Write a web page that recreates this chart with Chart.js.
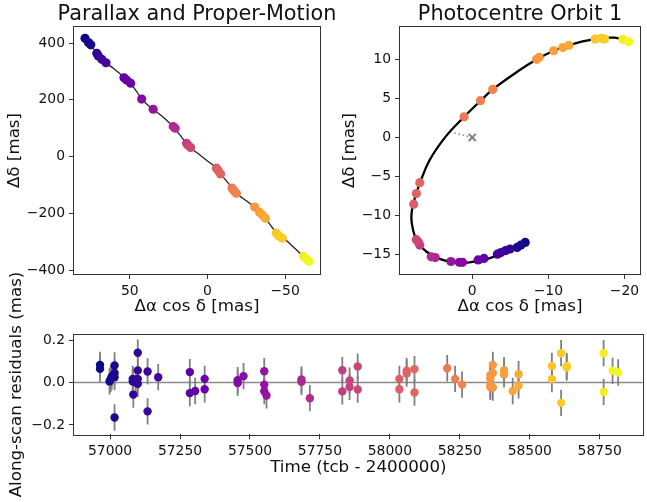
<!DOCTYPE html>
<html>
<head>
<meta charset="utf-8">
<script src="https://cdn.jsdelivr.net/npm/chart.js@4.4.0/dist/chart.umd.min.js"></script>
<style>
  body { margin: 0; background: #fff; width: 647px; height: 502px; position: relative; overflow: hidden; }
  canvas { position: absolute; }
</style>
</head>
<body>
<canvas id="pm" width="350" height="320" style="left:0;top:0"></canvas>
<canvas id="orb" width="317" height="320" style="left:330px;top:0"></canvas>
<canvas id="res" width="647" height="252" style="left:0;top:250px"></canvas>
<script>
// --- parallax + proper motion panel (mas) ---
var pmCurveRa  = [79.9, 76.7, 71.3, 65.4, 60.7, 53.8, 48.8, 45.6, 42.4, 39.2, 35.0, 28.5, 22.1, 17.8, 13.5, 9.2, 4.9, 0, -4.7, -9.0, -14.3, -18.6, -25.1, -30.4, -34.7, -38.9, -44.3, -49.7, -55.0, -61.9, -65.7];
var pmCurveDec = [420.7, 401.7, 366.5, 331.2, 311.5, 279.8, 252.6, 229, 203.3, 185.7, 167, 138.8, 105.7, 76.5, 47.2, 23.6, 6, -15.2, -35.2, -64.5, -99.7, -129, -156, -178.3, -199.4, -229, -267.8, -291, -317, -352.4, -375.6];
var pmRa   = [78.9, 76.7, 75.2, 71.3, 70.3, 68.1, 65.4, 53.8, 52.1, 49.5, 42.4, 35.0, 22.1, 20.8, 13.5, 12.5, 10.9, -5.8, -7.0, -8.4, -15.8, -17.0, -18.6, -30.4, -33.6, -35.5, -37.3, -44.3, -46.0, -48.2, -61.9, -64.0, -65.3];
var pmDec  = [417, 402, 394, 364, 355, 343, 331, 278, 270, 259, 203, 167, 106, 100, 47, 40, 32, -41, -50, -61, -111, -120, -129, -178, -197, -207, -217, -270, -280, -288, -352, -362, -370];
var pmTime = [56964, 57006, 57016, 57083, 57099, 57134, 57172, 57285, 57304, 57338, 57466, 57553, 57684, 57714, 57830, 57856, 57885, 58034, 58060, 58088, 58205, 58233, 58258, 58362, 58408, 58439, 58460, 58590, 58612, 58632, 58764, 58796, 58816];
var pmXTicks = [50, 0, -50];
var pmYTicks = [-400, -200, 0, 200, 400];

// --- photocentre orbit panel (mas) ---
var orbCurveRa  = [-7.0, -6, -5, -4, -3, -2, -1, 0, 1, 2, 3, 4, 5, 6, 7, 7.6, 7.95, 8.0, 7.85, 7.5, 6.9, 5.6, 3.5, 1.1, -1.1, -2.7, -5.9, -8.5, -10.7, -12.7, -14.5, -16.2, -18.7, -20.6];
var orbCurveDec = [-13.5, -14.05, -14.5, -14.9, -15.25, -15.55, -15.8, -15.95, -16.05, -16.05, -15.9, -15.65, -15.25, -14.65, -13.7, -12.5, -11, -10, -8.9, -7.6, -5.9, -2.9, 0.1, 2.6, 4.7, 6.15, 8.4, 10.0, 11.1, 11.8, 12.3, 12.6, 12.77, 12.25];
var orbRa   = [-6.96, -6.4, -5.9, -4.96, -4.4, -3.76, -3.3, -1.54, -0.77, 1.28, 1.7, 2.8, 4.87, 5.4, 6.9, 7.1, 7.35, 7.7, 7.35, 6.9, 1.07, -1.07, -2.7, -8.46, -8.8, -10.7, -11.9, -12.7, -16.15, -17.0, -17.4, -19.8, -20.55];
var orbDec  = [-13.46, -13.8, -14.1, -14.3, -14.5, -14.75, -14.96, -15.5, -15.7, -16.0, -16.0, -15.9, -15.4, -15.3, -13.8, -13.4, -13.1, -8.55, -7.2, -5.8, 2.64, 4.7, 6.15, 10.0, 10.26, 11.1, 11.5, 11.8, 12.6, 12.7, 12.6, 12.56, 12.26];
var orbTime = [56964, 57002, 57016, 57083, 57099, 57134, 57172, 57285, 57338, 57456, 57477, 57555, 57684, 57714, 57830, 57856, 57885, 58034, 58060, 58088, 58205, 58233, 58258, 58359, 58368, 58408, 58439, 58460, 58579, 58612, 58632, 58764, 58816];
var periRa  = [0, 2.65];
var periDec = [0, 0.64];
var orbXTicks = [0, -10, -20];
var orbYTicks = [-15, -10, -5, 0, 5, 10];

// --- along-scan residuals ---
var resTime = [56964, 56964, 56998, 57002, 57006, 57016, 57016, 57016, 57016, 57081, 57081, 57083, 57092, 57099, 57099, 57099, 57099, 57134, 57134, 57172,
  57285, 57285, 57304, 57338, 57338, 57456, 57456, 57477, 57551, 57551, 57551, 57559, 57684, 57684, 57714, 57830, 57830, 57856, 57856, 57885, 57885,
  58034, 58034, 58060, 58060, 58088, 58088, 58205, 58233, 58258, 58359, 58359, 58359, 58359, 58368, 58368, 58368, 58408, 58408, 58439, 58460, 58460,
  58579, 58579, 58612, 58612, 58632, 58632, 58764, 58764, 58796, 58816];
var resVal = [0.083, 0.064, 0.005, 0.017, 0.028, 0.045, 0.080, 0.025, -0.165, 0.005, 0.017, -0.057, 0.000, 0.140, 0.057, 0.017, -0.006, 0.052, -0.136, 0.025,
  0.049, -0.050, -0.040, 0.017, -0.032, 0.011, -0.002, 0.030, 0.053, -0.010, -0.041, -0.061, 0.014, 0.003, -0.074, 0.058, -0.042, 0.009, -0.021, 0.075, -0.033,
  0.017, -0.032, 0.055, 0.042, 0.063, -0.047, 0.067, 0.017, -0.010, 0.034, 0.017, -0.013, -0.021, 0.083, 0.045, -0.024, 0.058, 0.038, -0.040, 0.039, -0.014,
  0.078, 0.016, 0.138, -0.096, 0.078, 0.070, 0.138, -0.044, 0.055, 0.047];
var resErr = 0.062;
var resXTicks = [57000, 57250, 57500, 57750, 58000, 58250, 58500, 58750];
var resYTicks = [-0.2, 0, 0.2];

Chart.defaults.font.family = 'DejaVu Sans';
Chart.defaults.color = '#111';

var plasmaStops = ['#0d0887', '#41049d', '#6a00a8', '#8f0da4', '#b12a90', '#cc4778', '#e16462', '#f2844b', '#fca636', '#fcce25', '#f0f921'];
function hexRgb(h) {
  return [parseInt(h.slice(1, 3), 16), parseInt(h.slice(3, 5), 16), parseInt(h.slice(5, 7), 16)];
}
function plasma(f) {
  f = Math.min(1, Math.max(0, f));
  var p = f * (plasmaStops.length - 1);
  var i = Math.min(Math.floor(p), plasmaStops.length - 2);
  var u = p - i;
  var a = hexRgb(plasmaStops[i]), b = hexRgb(plasmaStops[i + 1]);
  return 'rgb(' + [0, 1, 2].map(k => Math.round(a[k] + (b[k] - a[k]) * u)).join(',') + ')';
}
var tMin = Math.min.apply(null, resTime), tMax = Math.max.apply(null, resTime);
function timeColour(t) { return plasma((t - tMin) / (tMax - tMin)); }

function pts(xs, ys) { return xs.map((x, i) => ({x: x, y: ys[i]})); }
function minus(s) { return String(s).replace('-', '\u2212'); }

// draw the four spines like matplotlib
var frame = {
  id: 'frame',
  afterDatasetsDraw(chart) {
    var a = chart.chartArea, ctx = chart.ctx;
    ctx.save();
    ctx.strokeStyle = '#333';
    ctx.lineWidth = 1;
    ctx.strokeRect(Math.round(a.left) - 0.5, Math.round(a.top) - 0.5, Math.round(a.width) + 1, Math.round(a.height) + 1);
    ctx.restore();
  }
};

// axes title centred over the plot area (may be wider than it)
var axTitle = {
  id: 'axTitle',
  afterDraw(chart, args, opts) {
    var a = chart.chartArea, ctx = chart.ctx;
    ctx.save();
    ctx.font = '20.8px "DejaVu Sans"';
    ctx.fillStyle = '#111';
    ctx.textAlign = 'center';
    ctx.textBaseline = 'alphabetic';
    ctx.fillText(opts.text, (a.left + a.right) / 2, 20);
    ctx.restore();
  }
};

function axis(min, max, ticks, fmt, reverse, label, titlePad) {
  return {
    type: 'linear', min: min, max: max, reverse: !!reverse,
    afterBuildTicks: s => { s.ticks = ticks.map(v => ({value: v})); },
    ticks: { font: {size: 13.9}, padding: 4, callback: fmt, color: '#111' },
    grid: { display: true, drawOnChartArea: false, drawTicks: true, tickLength: 5, tickColor: '#333', color: '#333' },
    border: { display: false },
    title: { display: true, text: label, font: {size: 16.7}, padding: titlePad, color: '#111' }
  };
}

// panel 1: parallax and proper motion
var pmX = axis(-72.5, 86, pmXTicks, v => minus(v), true, '\u0394\u03b1 cos \u03b4 [mas]', {top: 0, bottom: 3});
pmX.afterFit = s => { s.height = 46; };
var pmY = axis(-414, 457, pmYTicks, v => minus(v), false, '\u0394\u03b4 [mas]', {top: 5, bottom: 0});
pmY.afterFit = s => { s.width = 74; };
new Chart(document.getElementById('pm'), {
  type: 'scatter',
  data: {
    datasets: [
      { data: pts(pmRa, pmDec), backgroundColor: pmTime.map(timeColour), pointRadius: 4.6, borderWidth: 0, order: 1 },
      { type: 'line', data: pts(pmCurveRa, pmCurveDec), borderColor: '#222', borderWidth: 1.3, pointRadius: 0, tension: 0.3, fill: false, order: 2 }
    ]
  },
  options: {
    responsive: false, animation: false, devicePixelRatio: 1,
    layout: { padding: {left: 0, right: 30, top: 27, bottom: 0} },
    plugins: {
      legend: {display: false}, tooltip: {enabled: false},
      axTitle: { text: 'Parallax and Proper-Motion' }
    },
    scales: { x: pmX, y: pmY }
  },
  plugins: [frame, axTitle]
});

// panel 2: photocentre orbit
var orbX = axis(-22.05, 9.5, orbXTicks, v => minus(v), true, '\u0394\u03b1 cos \u03b4 [mas]', {top: 0, bottom: 3});
orbX.afterFit = s => { s.height = 46; };
var orbY = axis(-17.5, 14.14, orbYTicks, v => minus(v), false, '\u0394\u03b4 [mas]', {top: 10, bottom: 0});
orbY.afterFit = s => { s.width = 70; };
new Chart(document.getElementById('orb'), {
  type: 'scatter',
  data: {
    datasets: [
      { data: pts(orbRa, orbDec), backgroundColor: orbTime.map(timeColour), pointRadius: 4.6, borderWidth: 0, order: 1 },
      { data: [{x: 0, y: 0}], pointStyle: 'crossRot', pointRadius: 5, borderColor: '#808080', borderWidth: 2, backgroundColor: '#808080', order: 2 },
      { type: 'line', data: pts(orbCurveRa, orbCurveDec), borderColor: '#000', borderWidth: 2.3, pointRadius: 0, tension: 0.4, fill: false, order: 3 },
      { type: 'line', data: pts(periRa, periDec), borderColor: '#909090', borderWidth: 1.6, borderDash: [1.6, 2.6], pointRadius: 0, fill: false, order: 4 }
    ]
  },
  options: {
    responsive: false, animation: false, devicePixelRatio: 1,
    layout: { padding: {left: 0, right: 1, top: 27, bottom: 0} },
    plugins: {
      legend: {display: false}, tooltip: {enabled: false},
      axTitle: { text: 'Photocentre Orbit 1' }
    },
    scales: { x: orbX, y: orbY }
  },
  plugins: [frame, axTitle]
});

// panel 3: residuals with error bars and zero line
var resExtras = {
  id: 'resExtras',
  beforeDatasetsDraw(chart) {
    var x = chart.scales.x, y = chart.scales.y, a = chart.chartArea, ctx = chart.ctx;
    ctx.save();
    ctx.beginPath();
    ctx.rect(a.left, a.top, a.width, a.height);
    ctx.clip();
    ctx.strokeStyle = '#8a8a8a';
    ctx.lineWidth = 1.5;
    var y0 = y.getPixelForValue(0);
    ctx.beginPath();
    ctx.moveTo(a.left, y0);
    ctx.lineTo(a.right, y0);
    ctx.stroke();
    ctx.strokeStyle = '#808080';
    ctx.lineWidth = 1.8;
    resTime.forEach((t, i) => {
      var px = x.getPixelForValue(t);
      ctx.beginPath();
      ctx.moveTo(px, y.getPixelForValue(resVal[i] - resErr));
      ctx.lineTo(px, y.getPixelForValue(resVal[i] + resErr));
      ctx.stroke();
    });
    ctx.restore();
  }
};
var resX = axis(56871, 58904, resXTicks, v => String(v), false, 'Time (tcb - 2400000)', {top: 0, bottom: 24});
resX.afterFit = s => { s.height = 67.7; };
var resY = axis(-0.244, 0.225, resYTicks, v => minus(v.toFixed(1)), false, 'Along-scan residuals (mas)', {top: 7, bottom: 0});
resY.afterFit = s => { s.width = 74; };
new Chart(document.getElementById('res'), {
  type: 'scatter',
  data: {
    datasets: [
      { data: pts(resTime, resVal), backgroundColor: resTime.map(timeColour), pointRadius: 4.2, borderWidth: 0 }
    ]
  },
  options: {
    responsive: false, animation: false, devicePixelRatio: 1,
    layout: { padding: {left: 0, right: 2, top: 84.7, bottom: 0} },
    plugins: { legend: {display: false}, tooltip: {enabled: false} },
    scales: { x: resX, y: resY }
  },
  plugins: [resExtras, frame]
});
</script>
</body>
</html>
